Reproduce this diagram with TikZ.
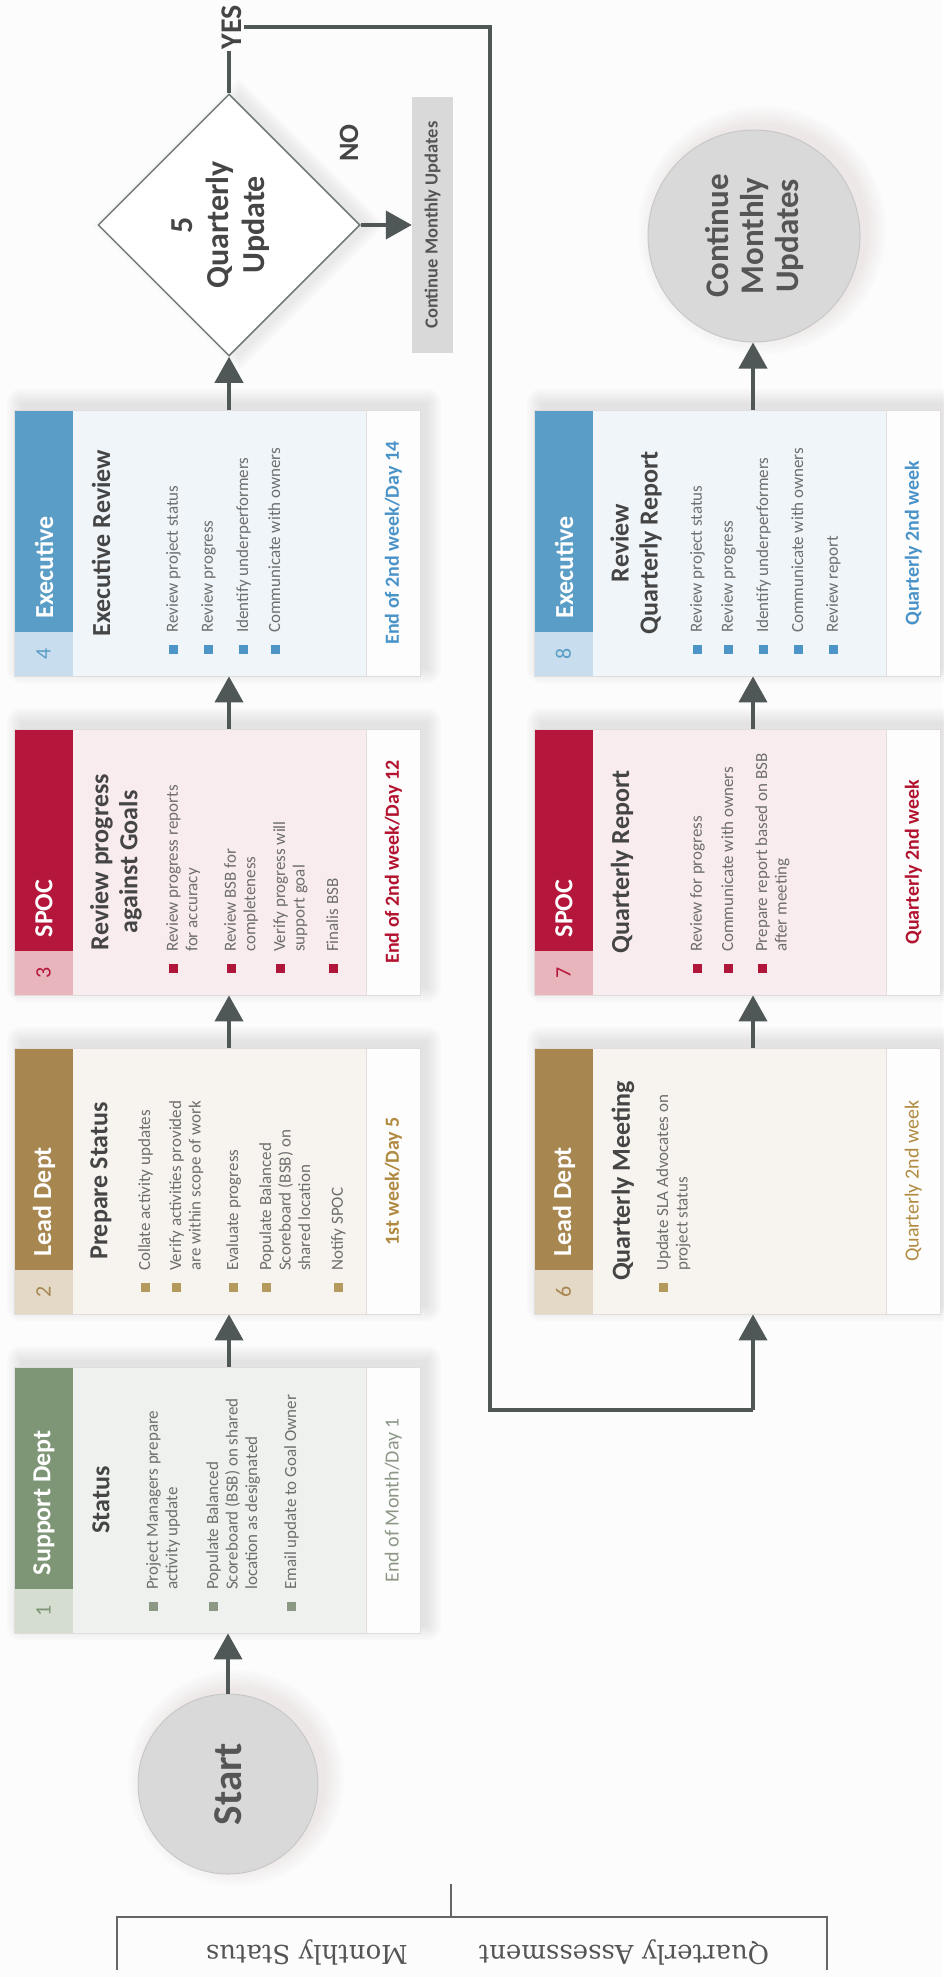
\documentclass[tikz,border=0pt]{standalone}
\usepackage{fontspec}
\setmainfont{Carlito}
\newfontfamily\labfont{DejaVu Serif}
\usetikzlibrary{arrows.meta,calc,shapes.geometric}

\definecolor{bgc}{HTML}{FCFCFC}
\definecolor{arrowc}{HTML}{4F5757}
\definecolor{titlec}{HTML}{454545}
\definecolor{txtc}{HTML}{6E6E6E}
\definecolor{boxedge}{HTML}{E2DDDD}
\definecolor{footbg}{HTML}{FDFDFD}
\definecolor{shadowc}{HTML}{7A5F66}
% green
\definecolor{gH}{HTML}{7E9675}\definecolor{gN}{HTML}{D5DCD0}\definecolor{gB}{HTML}{EEF1ED}
\definecolor{gF}{HTML}{8C9786}\definecolor{gD}{HTML}{8A9884}
% brown
\definecolor{lH}{HTML}{A88650}\definecolor{lN}{HTML}{E4D8C7}\definecolor{lB}{HTML}{F7F3EF}
\definecolor{lF}{HTML}{B08A40}\definecolor{lD}{HTML}{B59A5E}
% red
\definecolor{rH}{HTML}{B5173C}\definecolor{rN}{HTML}{E8B5BC}\definecolor{rB}{HTML}{F9ECEE}
\definecolor{rF}{HTML}{B2132F}\definecolor{rD}{HTML}{B0153A}
% blue
\definecolor{eH}{HTML}{5A9DC6}\definecolor{eN}{HTML}{C8DEEE}\definecolor{eB}{HTML}{F0F5F9}
\definecolor{eF}{HTML}{4A93C9}\definecolor{eD}{HTML}{4E95C7}
\definecolor{circfill}{HTML}{D9D9D9}
\definecolor{circedge}{HTML}{C8C8C8}
\definecolor{labc}{HTML}{555555}

\tikzset{
  boxbody/.style={rectangle, minimum width=406pt, minimum height=266pt, inner sep=0pt, draw=none},
  boxline/.style={draw=boxedge, line width=0.8pt},
  titletxt/.style={rotate=90, font=\fontsize{26}{29}\selectfont\bfseries, text=titlec, align=center, inner sep=0pt},
  depttxt/.style={rotate=90, font=\fontsize{26}{30}\selectfont\bfseries, text=white, inner sep=0pt},
  numtxt/.style={rotate=90, font=\fontsize{22}{24}\selectfont, inner sep=0pt},
  bultxt/.style={rotate=90, font=\fontsize{17}{19.5}\selectfont, text=txtc, align=left, inner sep=0pt},
  foottxt/.style={rotate=90, font=\fontsize{20}{22}\selectfont, inner sep=0pt},
  bulletsq/.style={rectangle, minimum size=9pt, inner sep=0pt, draw=none},
  flow/.style={draw=arrowc, line width=4pt, -{Triangle[length=26pt,width=28pt]}},
  yesline/.style={draw=arrowc, line width=3.5pt},
  bigtxt/.style={rotate=90, text=labc, align=center, inner sep=0pt},
  brk/.style={draw=labc!90, line width=2pt},
  lab/.style={rotate=180, font=\labfont\fontsize{26}{30}\selectfont, text=labc, inner sep=0pt}
}

\newcommand{\softrect}[4]{%
  \foreach \k in {0,2,...,14}{%
    \fill[shadowc, fill opacity=0.018, rounded corners=\k pt] ({#1-\k+7},{#2-\k-7}) rectangle ({#3+\k+7},{#4+\k-7});}}

% #1 name, #2 x, #3 y, #4 prefix, #5 number, #6 dept, #7 footer
\newcommand{\procbox}[7]{%
  \softrect{#2}{#3}{#2+406}{#3+266}
  \node[boxbody, fill=#4B, anchor=north west] (#1) at (#2,#3) {};
  \fill[#4H] (#1.north west) rectangle ($(#1.south west)+(59,-44)$);
  \fill[#4N] ($(#1.south west)+(0,-44)$) rectangle ($(#1.south west)+(59,0)$);
  \fill[footbg] ($(#1.north east)+(-54,0)$) rectangle (#1.south east);
  \draw[boxline] ($(#1.north east)+(-54,0)$) -- ($(#1.south east)+(-54,0)$);
  \draw[boxline] (#1.north west) rectangle (#1.south east);
  \node[numtxt, text=#4H] (#1num) at ($(#1.south west)+(29.5,-22)$) {#5};
  \node[depttxt, anchor=west] (#1dept) at ($(#1.south west)+(30,-58)$) {#6};
  \node[foottxt, text=#4F] (#1foot) at ($(#1.east)+(-27,0)$) {#7};
}

% #1 name, #2 prefix, #3 X, #4 box bottom, #5 text
\newcommand{\bitem}[5]{%
  \node[bulletsq, fill=#2D] (#1d) at (#3,#4-27) {};
  \node[bultxt, anchor=north west] (#1t) at (#3-7,#4-43) {#5};
}

\begin{document}
\begin{tikzpicture}[x=1pt,y=-1pt]
\useasboundingbox (0,0) rectangle (943,1977);
\fill[bgc] (0,0) rectangle (943,1977);

% ---------- boxes ----------
\procbox{b1}{14}{1367}{g}{1}{Support Dept}{End of Month/Day 1}
\procbox{b2}{14}{1048}{l}{2}{Lead Dept}{\bfseries 1st week/Day 5}
\procbox{b3}{14}{729}{r}{3}{SPOC}{\bfseries End of 2nd week/Day 12}
\procbox{b4}{14}{410}{e}{4}{Executive}{\bfseries End of 2nd week/Day 14}
\procbox{b6}{534}{1048}{l}{6}{Lead Dept}{Quarterly 2nd week}
\procbox{b7}{534}{729}{r}{7}{SPOC}{\bfseries Quarterly 2nd week}
\procbox{b8}{534}{410}{e}{8}{Executive}{\bfseries Quarterly 2nd week}

% titles
\node[titletxt] (t1) at (101,1500) {Status};
\node[titletxt] (t2) at (101,1181) {Prepare Status};
\node[titletxt] (t3) at (116,862) {Review progress\\against Goals};
\node[titletxt] (t4) at (101,543) {Executive Review};
\node[titletxt] (t6) at (623,1181) {Quarterly Meeting};
\node[titletxt] (t7) at (622,862) {Quarterly Report};
\node[titletxt] (t8) at (636,543) {Review\\Quarterly Report};

% bullets
\bitem{b1i1}{g}{153}{1633}{Project Managers prepare\\activity update}
\bitem{b1i2}{g}{213}{1633}{Populate Balanced\\Scoreboard (BSB) on shared\\location as designated}
\bitem{b1i3}{g}{291}{1633}{Email update to Goal Owner}

\bitem{b2i1}{l}{145}{1314}{Collate activity updates}
\bitem{b2i2}{l}{176}{1314}{Verify activities provided\\are within scope of work}
\bitem{b2i3}{l}{233}{1314}{Evaluate progress}
\bitem{b2i4}{l}{266}{1314}{Populate Balanced\\Scoreboard (BSB) on\\shared location}
\bitem{b2i5}{l}{338}{1314}{Notify SPOC}

\bitem{b3i1}{r}{173}{995}{Review progress reports\\for accuracy}
\bitem{b3i2}{r}{231}{995}{Review BSB for\\completeness}
\bitem{b3i3}{r}{280}{995}{Verify progress will\\support goal}
\bitem{b3i4}{r}{333}{995}{Finalis BSB}

\bitem{b4i1}{e}{173}{676}{Review project status}
\bitem{b4i2}{e}{208}{676}{Review progress}
\bitem{b4i3}{e}{243}{676}{Identify underperformers}
\bitem{b4i4}{e}{275}{676}{Communicate with owners}

\bitem{b6i1}{l}{663}{1314}{Update SLA Advocates on\\project status}

\bitem{b7i1}{r}{697}{995}{Review for progress}
\bitem{b7i2}{r}{728}{995}{Communicate with owners}
\bitem{b7i3}{r}{762}{995}{Prepare report based on BSB\\after meeting}

\bitem{b8i1}{e}{697}{676}{Review project status}
\bitem{b8i2}{e}{728}{676}{Review progress}
\bitem{b8i3}{e}{763}{676}{Identify underperformers}
\bitem{b8i4}{e}{798}{676}{Communicate with owners}
\bitem{b8i5}{e}{833}{676}{Review report}

% ---------- circles ----------
\foreach \k in {0,3,...,18}{\fill[shadowc, fill opacity=0.016] (236,1778) circle[radius=90pt+\k pt];}
\node[circle, minimum size=180pt, inner sep=0pt, fill=circfill, draw=circedge, line width=1pt] (start) at (228,1784) {};
\node[bigtxt, font=\fontsize{41}{45}\selectfont\bfseries] (starttxt) at (start.center) {Start};

\foreach \k in {0,3,...,18}{\fill[shadowc, fill opacity=0.016] (762,230) circle[radius=106pt+\k pt];}
\node[circle, minimum size=212pt, inner sep=0pt, fill=circfill, draw=circedge, line width=1pt] (cont) at (754,236) {};
\node[bigtxt, font=\fontsize{33}{35}\selectfont\bfseries] (conttxt) at (cont.center) {Continue\\Monthly\\Updates};

% ---------- diamond ----------
\foreach \k in {0,3,...,15}{\fill[shadowc, fill opacity=0.018] (239,{94-\k}) -- ({370+\k},225) -- (239,{356+\k}) -- ({108-\k},225) -- cycle;}
\node[diamond, aspect=1, minimum width=262pt, minimum height=262pt, inner sep=0pt, fill=white, draw=arrowc!80, line width=1.5pt] (d5) at (229,225) {};
\node[rotate=90, align=center, font=\fontsize{32}{36}\selectfont\bfseries, text=titlec, inner sep=0pt] (d5txt) at (221,225) {5\\Quarterly\\Update};

% NO branch
\node[rectangle, minimum width=41pt, minimum height=255pt, inner sep=0pt, fill=circfill] (cmu) at (432.5,225) {};
\node[rotate=90, font=\fontsize{18.5}{20}\selectfont\bfseries, text=labc, inner sep=0pt] (cmutxt) at (cmu.center) {Continue Monthly Updates};
\node[rotate=90, font=\fontsize{28}{30}\selectfont\bfseries, text=titlec, inner sep=0pt] (no) at (349,143) {NO};
\draw[flow] (d5.east) -- (cmu.west);

% YES branch
\node[rotate=90, font=\fontsize{30}{32}\selectfont\bfseries, text=titlec, inner sep=2pt] (yes) at (232,27) {YES};
\coordinate (ycA) at (490,25);
\coordinate (ycB) at (490,1410);
\coordinate (axL) at (229,0);
\coordinate (axR) at (753,0);
\draw[yesline] (d5.north) -- (d5.north |- yes.west);
\draw[yesline] (yes.south) -- (yes.south -| ycA) -- (ycB) -- (ycB -| axR);
\draw[flow] (ycB -| axR) -- (b6.south -| axR);

% ---------- flow arrows ----------
\draw[flow] (start.north) -- (b1.south -| start.north);
\draw[flow] (b1.north -| axL) -- (b2.south -| axL);
\draw[flow] (b2.north -| axL) -- (b3.south -| axL);
\draw[flow] (b3.north -| axL) -- (b4.south -| axL);
\draw[flow] (b4.north -| axL) -- (d5.south);
\draw[flow] (b6.north -| axR) -- (b7.south -| axR);
\draw[flow] (b7.north -| axR) -- (b8.south -| axR);
\draw[flow] (b8.north -| axR) -- (cont.south -| axR);

% ---------- bottom bracket ----------
\draw[brk] (117,1970) -- (117,1917) -- (827,1917) -- (827,1970);
\draw[brk] (451,1917) -- (451,1884);
\node[lab] (mlab) at (307,1952) {Monthly Status};
\node[lab] (qlab) at (624,1952) {Quarterly Assessment};
\end{tikzpicture}
\end{document}
